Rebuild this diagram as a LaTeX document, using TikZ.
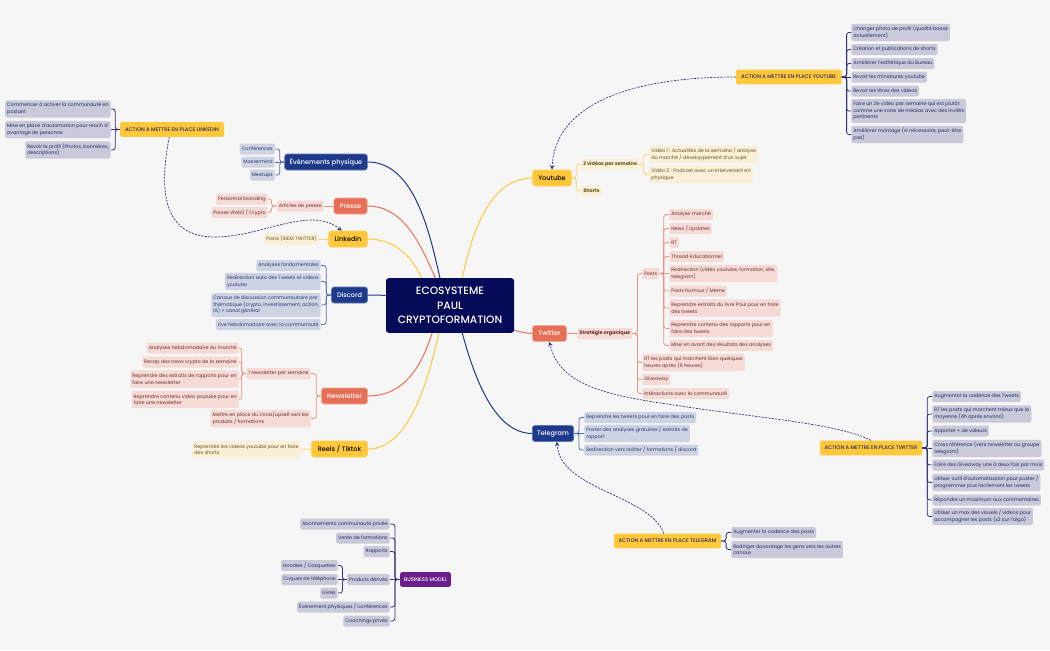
\documentclass[tikz,border=0pt]{standalone}
\usepackage{xcolor}
\usepackage{fontspec}
\setmainfont{Poppins}
\newfontfamily\mediumfont{Poppins Medium}
\usepackage{tikz}
\definecolor{pagecolor}{RGB}{246, 246, 246}
\definecolor{rootcolor}{RGB}{6, 11, 87}
\definecolor{goldcolor}{RGB}{255, 199, 58}
\definecolor{goldleaf}{RGB}{250, 240, 216}
\definecolor{goldtext}{RGB}{100, 80, 30}
\definecolor{goldline}{RGB}{255, 210, 100}
\definecolor{coralcolor}{RGB}{231, 111, 85}
\definecolor{coralleaf}{RGB}{245, 218, 214}
\definecolor{coraltext}{RGB}{105, 45, 45}
\definecolor{coralline}{RGB}{238, 145, 125}
\definecolor{royalcolor}{RGB}{30, 58, 138}
\definecolor{royalleaf}{RGB}{205, 211, 226}
\definecolor{royaltext}{RGB}{40, 55, 115}
\definecolor{royalline}{RGB}{85, 108, 170}
\definecolor{inkleaf}{RGB}{200, 202, 218}
\definecolor{inktext}{RGB}{35, 38, 100}
\definecolor{inkline}{RGB}{45, 48, 115}
\definecolor{purplecolor}{RGB}{107, 29, 139}
\tikzset{
    boxbase/.style={rounded corners=1.5pt, inner xsep=1.5pt, inner ysep=0pt, minimum height=8.25pt, align=left, font=\fontsize{3.65}{5}\selectfont},
    twolines/.style={minimum height=13pt},
    threelines/.style={minimum height=18pt},
    boldleaf/.style={font=\fontsize{3.7}{5}\selectfont\bfseries},
    rootbox/.style={fill=rootcolor, text=white, rounded corners=2pt, minimum width=96pt, minimum height=41pt, align=center, font=\fontsize{8}{11}\selectfont\mediumfont},
    mainbox/.style={rounded corners=2pt, minimum height=12pt, inner xsep=1pt, inner ysep=0pt, line width=0.5pt, font=\fontsize{4.9}{7}\selectfont\mediumfont},
    goldmain/.style={mainbox, fill=goldcolor, draw=goldcolor!85!white, text=black},
    coralmain/.style={mainbox, fill=coralcolor, draw=coralcolor!60!white, text=white},
    royalmain/.style={mainbox, fill=royalcolor, draw=royalcolor!70!white, text=white},
    actionbox/.style={rounded corners=1.5pt, fill=goldcolor, text=inktext, minimum height=11pt, inner xsep=1pt, inner ysep=0pt, font=\fontsize{3.9}{5}\selectfont\mediumfont},
    modelbox/.style={rounded corners=1.5pt, fill=purplecolor, text=white, minimum height=11pt, inner xsep=1pt, inner ysep=0pt, font=\fontsize{3.9}{5}\selectfont\mediumfont},
    goldbox/.style={boxbase, fill=goldleaf, text=goldtext},
    coralbox/.style={boxbase, fill=coralleaf, text=coraltext},
    royalbox/.style={boxbase, fill=royalleaf, text=royaltext},
    inkbox/.style={boxbase, fill=inkleaf, text=inktext},
    goldlink/.style={draw=goldline, line width=0.6pt, rounded corners=1.9pt},
    corallink/.style={draw=coralline, line width=0.6pt, rounded corners=1.9pt},
    royallink/.style={draw=royalline, line width=0.6pt, rounded corners=1.9pt},
    inklink/.style={draw=inkline, line width=0.6pt, rounded corners=1.9pt},
    dashlink/.style={draw=inkline, line width=0.5pt, dashed, dash pattern=on 1.6pt off 0.9pt, ->, >=stealth}
}

\begin{document}
\begin{tikzpicture}[x=0.75pt, y=-0.75pt]
    \fill[pagecolor] (0,0) rectangle (1050,650);
    \useasboundingbox (0,0) rectangle (1050,650);

    % Root
    \node[rootbox] (root) at (450,305.5) {ECOSYSTEME\\PAUL\\CRYPTOFORMATION};

    % Main channels
    \node[royalmain, minimum width=62pt] (events) at (326,162) {Évènements physique};
    \node[coralmain, minimum width=25pt] (presse) at (350.5,206) {Presse};
    \node[goldmain, minimum width=29pt] (linkedin) at (348,239) {Linkedin};
    \node[royalmain, minimum width=27pt] (discord) at (349.5,295) {Discord};
    \node[coralmain, minimum width=34.5pt] (newsletter) at (344.5,396) {Newsletter};
    \node[goldmain, minimum width=42pt] (reels) at (339.5,449) {Reels / Tiktok};
    \node[goldmain, minimum width=29pt] (youtube) at (552,178) {Youtube};
    \node[coralmain, minimum width=25.5pt] (twitter) at (549.5,333.5) {Twitter};
    \node[royalmain, minimum width=31pt] (telegram) at (553,433.5) {Telegram};

    % Action boxes
    \node[actionbox, minimum width=78pt] (actionlinkedin) at (172,129.5) {ACTION A METTRE EN PLACE LINKEDIN};
    \node[actionbox, minimum width=79pt] (actionyoutube) at (788.7,77) {ACTION A METTRE EN PLACE YOUTUBE};
    \node[actionbox, minimum width=76.5pt] (actiontwitter) at (871,448) {ACTION A METTRE EN PLACE TWITTER};
    \node[actionbox, minimum width=80pt] (actiontelegram) at (667.5,541) {ACTION A METTRE EN PLACE TELEGRAM};
    \node[modelbox, minimum width=38pt] (model) at (425.5,579.5) {BUSINESS MODEL};

    % Linkedin action
    \node[inkbox, twolines, anchor=east] (lia) at (111,109) {Commencer à activer la communauté en\\postant};
    \node[inkbox, twolines, anchor=east] (lib) at (111,129.5) {Mise en place d'automation pour reach d'\\avantage de personne};
    \node[inkbox, twolines, anchor=east] (lic) at (111,150) {Revoir le profil (Photos, bannières,\\descriptions)};

    % Evenements
    \node[royalbox, anchor=east] (eva) at (275,149) {Conférences};
    \node[royalbox, anchor=east] (evb) at (275,162) {Mastermind};
    \node[royalbox, anchor=east] (evc) at (275,175) {Meetups};

    % Presse
    \node[coralbox, anchor=east] (art) at (324,206) {Articles de presse};
    \node[coralbox, anchor=east] (arta) at (268,199) {Personnal branding};
    \node[coralbox, anchor=east] (artb) at (268,212.5) {Presse Web3 / Crypto};

    % Linkedin
    \node[goldbox, anchor=east] (lkposts) at (319,239) {Posts (IDEM TWITTER)};

    % Discord
    \node[royalbox, anchor=east] (dia) at (321,265.5) {Analyses fondamentales};
    \node[royalbox, twolines, anchor=east] (dib) at (321,281.5) {Redirection auto des Tweets et videos\\youtube};
    \node[royalbox, threelines, anchor=east] (dic) at (321,305) {Canaux de discussion communautaire par\\thématique (crypto, investissement, action,\\IA) + canal général};
    \node[royalbox, anchor=east] (did) at (321,324.5) {Live hebdomadaire avec la communauté};

    % Newsletter
    \node[coralbox, anchor=east] (nlweek) at (311,373.5) {1 newsletter par semaine};
    \node[coralbox, twolines, anchor=east] (nlcross) at (311,418.5) {Mettre en place du cross/upsell vers les\\produits / formations};
    \node[coralbox, anchor=east] (nla) at (239,348) {Analyses hebdomadaire du marché};
    \node[coralbox, anchor=east] (nlb) at (239,362) {Recap des news crypto de la semaine};
    \node[coralbox, twolines, anchor=east] (nlc) at (239,379) {Reprendre des extraits de rapports pour en\\faire une newsletter};
    \node[coralbox, twolines, anchor=east] (nld) at (239,399.5) {Reprendre contenu video youtube pour en\\faire une newsletter};

    % Reels
    \node[goldbox, twolines, anchor=east] (reshorts) at (301,449.5) {Reprendre les videos youtube pour en faire\\des shorts.};

    % Business model
    \node[inkbox, anchor=east] (bma) at (390,524) {Abonnements communauté privée};
    \node[inkbox, anchor=east] (bmb) at (390,538) {Vente de formations};
    \node[inkbox, anchor=east] (bmc) at (390,551.5) {Rapports};
    \node[inkbox, anchor=east] (bmd) at (390,579.5) {Produits dérivés};
    \node[inkbox, anchor=east] (bme) at (390,607) {Événement physiques / conférences};
    \node[inkbox, anchor=east] (bmf) at (390,621) {Coachings privés};
    \node[inkbox, anchor=east] (proa) at (338,565.5) {Hoodies / Casquettes};
    \node[inkbox, anchor=east] (prob) at (338,579.5) {Coques de téléphone};
    \node[inkbox, anchor=east] (proc) at (338,593) {Livres};

    % Youtube action
    \node[inkbox, twolines, anchor=west] (yaa) at (851,32.5) {Changer photo de profil (qualité basse\\actuellement)};
    \node[inkbox, anchor=west] (yab) at (851,49.5) {Création et publications de shorts};
    \node[inkbox, anchor=west] (yac) at (851,63.5) {Améliorer l'esthétique du Bureau};
    \node[inkbox, anchor=west] (yad) at (851,77) {Revoir les miniatures youtube};
    \node[inkbox, anchor=west] (yae) at (851,91) {Revoir les titres des videos};
    \node[inkbox, threelines, anchor=west] (yaf) at (851,111) {Faire un 2e vidéo par semaine qui est plutôt\\comme une sorte de médias avec des invités\\pertinents};
    \node[inkbox, twolines, anchor=west] (yag) at (851,134.5) {Améliorer montage (si nécessaire, peut-être\\pas)};

    % Youtube
    \node[goldbox, boldleaf, anchor=west] (ytweek) at (581,164.5) {2 vidéos par semaine};
    \node[goldbox, boldleaf, anchor=west] (ytshorts) at (581,191) {Shorts};
    \node[goldbox, twolines, anchor=west] (yta) at (649,154.5) {Vidéo 1 : Actualités de la semaine / analyse\\du marché / développement d'un sujet};
    \node[goldbox, twolines, anchor=west] (ytb) at (649,174.5) {Vidéo 2 : Podcast avec un intervenant en\\physique};

    % Twitter
    \node[coralbox, boldleaf, anchor=west] (orga) at (577,333.5) {Stratégie organique};
    \node[coralbox, anchor=west] (posts) at (642,273.5) {Posts};
    \node[coralbox, anchor=west] (poa) at (669,214.5) {Analyse marché};
    \node[coralbox, anchor=west] (pob) at (669,228.5) {News / Updates};
    \node[coralbox, anchor=west] (poc) at (669,242.5) {RT};
    \node[coralbox, anchor=west] (pod) at (669,256.5) {Thread éducationnel};
    \node[coralbox, twolines, anchor=west] (poe) at (669,273.5) {Redirection (vidéo youtube, formation, site,\\telegram)};
    \node[coralbox, anchor=west] (pof) at (669,291) {Posts humour / Meme};
    \node[coralbox, twolines, anchor=west] (pog) at (669,308) {Reprendre extraits du livre Paul pour en faire\\des tweets};
    \node[coralbox, twolines, anchor=west] (poh) at (669,328.5) {Reprendre contenu des rapports pour en\\faire des tweets};
    \node[coralbox, anchor=west] (poi) at (669,345.5) {Mise en avant des résultats des analyses};
    \node[coralbox, twolines, anchor=west] (orb) at (642,362.5) {RT les posts qui marchent bien quelques\\heures après (6 heures)};
    \node[coralbox, anchor=west] (orc) at (642,379.5) {Giveaway};
    \node[coralbox, anchor=west] (ord) at (642,393.5) {Intéractions avec la communauté};

    % Twitter action
    \node[inkbox, anchor=west] (taa) at (932,396.5) {Augmenter la cadence des Tweets};
    \node[inkbox, twolines, anchor=west] (tab) at (932,414) {RT les posts qui marchent mieux que la\\moyenne (4h après environ)};
    \node[inkbox, anchor=west] (tac) at (932,431) {Apporter + de valeurs};
    \node[inkbox, twolines, anchor=west] (tad) at (932,448.5) {Cross référence (vers newsletter ou groupe\\telegram)};
    \node[inkbox, anchor=west] (tae) at (932,465) {Faire des Giveaway une à deux fois par mois};
    \node[inkbox, twolines, anchor=west] (taf) at (932,482.5) {Utiliser outil d'automatisation pour poster /\\programmer plus facilement les tweets};
    \node[inkbox, anchor=west] (tag) at (932,500) {Répondre un maximum aux commentaires};
    \node[inkbox, twolines, anchor=west] (tah) at (932,516.5) {Utiliser un max des visuels / videos pour\\accompagner les posts (x2 sur l'algo)};

    % Telegram
    \node[royalbox, anchor=west] (tga) at (584,417.5) {Reprendre les tweets pour en faire des posts};
    \node[royalbox, twolines, anchor=west] (tgb) at (584,433.5) {Poster des analyses gratuites / extraits de\\rapport};
    \node[royalbox, anchor=west] (tgc) at (584,450) {Redirection vers twitter / formations / discord};

    % Telegram action
    \node[inkbox, anchor=west] (aga) at (731,532.5) {Augmenter la cadence des posts};
    \node[inkbox, twolines, anchor=west] (agb) at (731,549.5) {Rediriger davantage les gens vers les autres\\canaux};

    % Curves from the root
    \draw[draw=royalcolor, line width=0.75pt] (root.110) .. controls (430,235) and (415,162) .. (events.east);
    \draw[draw=coralcolor, line width=0.75pt] (root.118) .. controls (422,248) and (405,206) .. (presse.east);
    \draw[draw=goldcolor, line width=0.75pt] (root.136) .. controls (412,256) and (394,239) .. (linkedin.east);
    \draw[draw=royalcolor, line width=0.75pt] (root.171) -- (discord.east);
    \draw[draw=coralcolor, line width=0.75pt] (root.237) .. controls (422,365) and (405,396) .. (newsletter.east);
    \draw[draw=goldcolor, line width=0.75pt] (root.248) .. controls (425,395) and (405,449) .. (reels.east);
    \draw[draw=goldcolor, line width=0.75pt] (root.66) .. controls (472,232) and (490,178) .. (youtube.west);
    \draw[draw=coralcolor, line width=0.75pt] (root.339) .. controls (520,332) and (526,333) .. (twitter.west);
    \draw[draw=royalcolor, line width=0.75pt] (root.294) .. controls (475,380) and (495,433) .. (telegram.west);

    % Dashed links from the action boxes
    \draw[dashlink] (actionlinkedin.250) .. controls (158,195) and (165,237) .. (215,237) .. controls (262,237) and (310,205) .. (linkedin.127);
    \draw[dashlink] (actionyoutube.west) .. controls (640,77) and (555,100) .. (youtube.north);
    \draw[dashlink] (actiontwitter.north) .. controls (840,424) and (760,418) .. (687,407) .. controls (620,397) and (560,390) .. (twitter.south);
    \draw[dashlink] (actiontelegram.116) .. controls (650,495) and (560,490) .. (telegram.295);

    % Brackets, left side
    \draw[inklink] (actionlinkedin.west) -- ++(-4.5,0) |- (lia.east);
    \draw[inklink] (actionlinkedin.west) -- (lib.east);
    \draw[inklink] (actionlinkedin.west) -- ++(-4.5,0) |- (lic.east);
    \draw[royallink] (events.west) -- ++(-4.5,0) |- (eva.east);
    \draw[royallink] (events.west) -- (evb.east);
    \draw[royallink] (events.west) -- ++(-4.5,0) |- (evc.east);
    \draw[corallink] (presse.west) -- (art.east);
    \draw[corallink] (art.west) -- ++(-5,0) |- (arta.east);
    \draw[corallink] (art.west) -- ++(-5,0) |- (artb.east);
    \draw[goldlink] (linkedin.west) -- (lkposts.east);
    \draw[royallink] (discord.west) -- ++(-5,0) |- (dia.east);
    \draw[royallink] (discord.west) -- ++(-5,0) |- (dib.east);
    \draw[royallink] (discord.west) -- ++(-5,0) |- (dic.east);
    \draw[royallink] (discord.west) -- ++(-5,0) |- (did.east);
    \draw[corallink] (newsletter.west) -- ++(-5,0) |- (nlweek.east);
    \draw[corallink] (newsletter.west) -- ++(-5,0) |- (nlcross.east);
    \draw[corallink] (nlweek.west) -- ++(-4.5,0) |- (nla.east);
    \draw[corallink] (nlweek.west) -- ++(-4.5,0) |- (nlb.east);
    \draw[corallink] (nlweek.west) -- ++(-4.5,0) |- (nlc.east);
    \draw[corallink] (nlweek.west) -- ++(-4.5,0) |- (nld.east);
    \draw[goldlink] (reels.west) -- (reshorts.east);
    \draw[inklink] (model.west) -- ++(-5,0) |- (bma.east);
    \draw[inklink] (model.west) -- ++(-5,0) |- (bmb.east);
    \draw[inklink] (model.west) -- ++(-5,0) |- (bmc.east);
    \draw[inklink] (model.west) -- (bmd.east);
    \draw[inklink] (model.west) -- ++(-5,0) |- (bme.east);
    \draw[inklink] (model.west) -- ++(-5,0) |- (bmf.east);
    \draw[inklink] (bmd.west) -- ++(-4.5,0) |- (proa.east);
    \draw[inklink] (bmd.west) -- (prob.east);
    \draw[inklink] (bmd.west) -- ++(-4.5,0) |- (proc.east);

    % Brackets, right side
    \draw[inklink] (actionyoutube.east) -- ++(5,0) |- (yaa.west);
    \draw[inklink] (actionyoutube.east) -- ++(5,0) |- (yab.west);
    \draw[inklink] (actionyoutube.east) -- ++(5,0) |- (yac.west);
    \draw[inklink] (actionyoutube.east) -- (yad.west);
    \draw[inklink] (actionyoutube.east) -- ++(5,0) |- (yae.west);
    \draw[inklink] (actionyoutube.east) -- ++(5,0) |- (yaf.west);
    \draw[inklink] (actionyoutube.east) -- ++(5,0) |- (yag.west);
    \draw[goldlink] (youtube.east) -- ++(4.5,0) |- (ytweek.west);
    \draw[goldlink] (youtube.east) -- ++(4.5,0) |- (ytshorts.west);
    \draw[goldlink] (ytweek.east) -- ++(4.5,0) |- (yta.west);
    \draw[goldlink] (ytweek.east) -- ++(4.5,0) |- (ytb.west);
    \draw[corallink] (twitter.east) -- (orga.west);
    \draw[corallink] (orga.east) -- ++(5,0) |- (posts.west);
    \draw[corallink] (orga.east) -- ++(5,0) |- (orb.west);
    \draw[corallink] (orga.east) -- ++(5,0) |- (orc.west);
    \draw[corallink] (orga.east) -- ++(5,0) |- (ord.west);
    \draw[corallink] (posts.east) -- ++(4.5,0) |- (poa.west);
    \draw[corallink] (posts.east) -- ++(4.5,0) |- (pob.west);
    \draw[corallink] (posts.east) -- ++(4.5,0) |- (poc.west);
    \draw[corallink] (posts.east) -- ++(4.5,0) |- (pod.west);
    \draw[corallink] (posts.east) -- (poe.west);
    \draw[corallink] (posts.east) -- ++(4.5,0) |- (pof.west);
    \draw[corallink] (posts.east) -- ++(4.5,0) |- (pog.west);
    \draw[corallink] (posts.east) -- ++(4.5,0) |- (poh.west);
    \draw[corallink] (posts.east) -- ++(4.5,0) |- (poi.west);
    \draw[inklink] (actiontwitter.east) -- ++(5,0) |- (taa.west);
    \draw[inklink] (actiontwitter.east) -- ++(5,0) |- (tab.west);
    \draw[inklink] (actiontwitter.east) -- ++(5,0) |- (tac.west);
    \draw[inklink] (actiontwitter.east) -- (tad.west);
    \draw[inklink] (actiontwitter.east) -- ++(5,0) |- (tae.west);
    \draw[inklink] (actiontwitter.east) -- ++(5,0) |- (taf.west);
    \draw[inklink] (actiontwitter.east) -- ++(5,0) |- (tag.west);
    \draw[inklink] (actiontwitter.east) -- ++(5,0) |- (tah.west);
    \draw[royallink] (telegram.east) -- ++(5,0) |- (tga.west);
    \draw[royallink] (telegram.east) -- (tgb.west);
    \draw[royallink] (telegram.east) -- ++(5,0) |- (tgc.west);
    \draw[inklink] (actiontelegram.east) -- ++(5,0) |- (aga.west);
    \draw[inklink] (actiontelegram.east) -- ++(5,0) |- (agb.west);
\end{tikzpicture}
\end{document}
